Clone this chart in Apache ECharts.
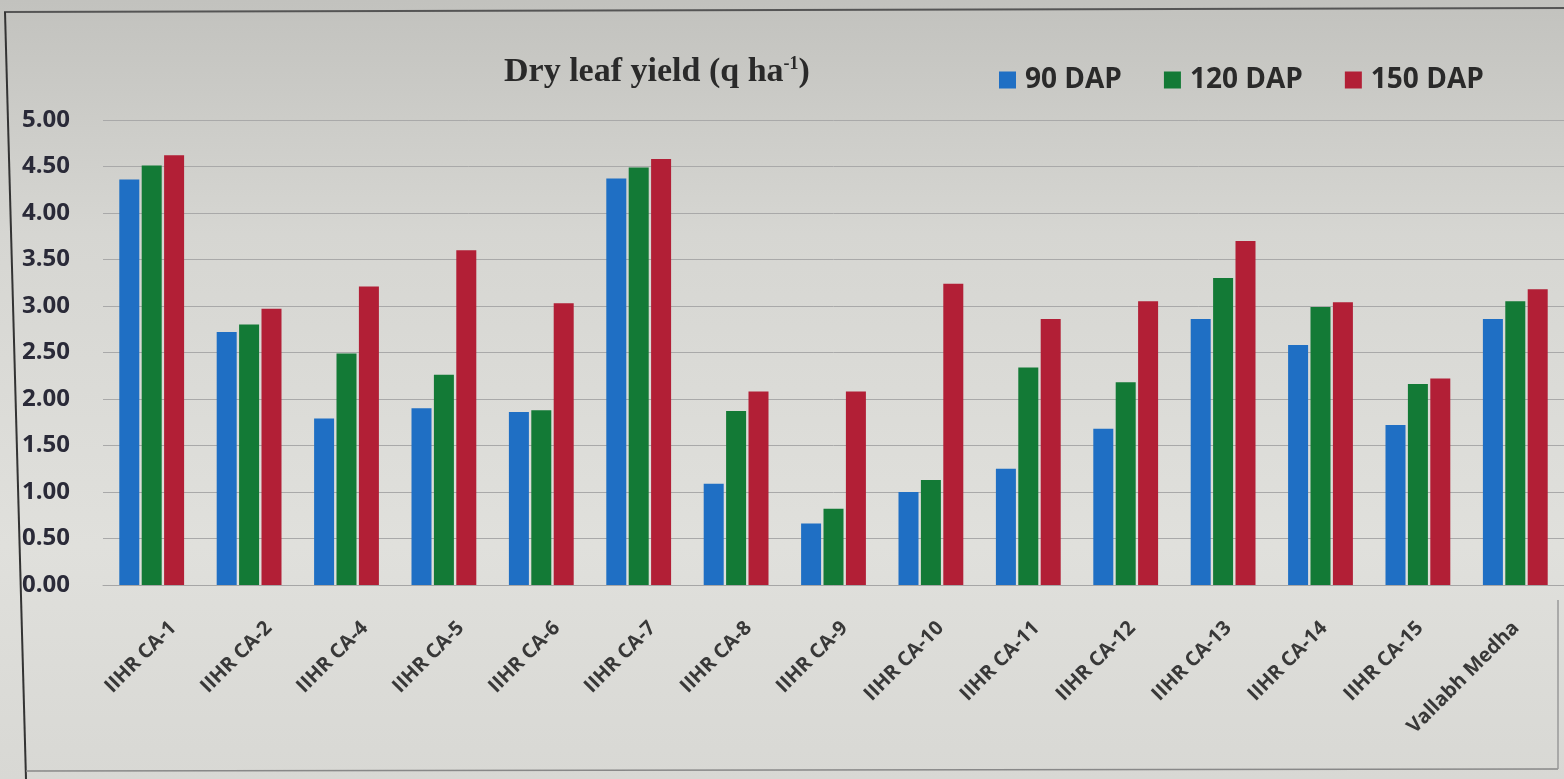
<!DOCTYPE html>
<html>
<head>
<meta charset="utf-8">
<title>Dry leaf yield</title>
<script src="https://cdn.jsdelivr.net/npm/echarts@6/dist/echarts.min.js"></script>
<style>
  html, body { margin: 0; padding: 0; background: #d4d4d0; }
  #chart { width: 1564px; height: 779px; }
</style>
</head>
<body>
<div id="chart"></div>
<script>
// Accessions on the x axis
const categories = [
  'IIHR CA-1', 'IIHR CA-2', 'IIHR CA-4', 'IIHR CA-5', 'IIHR CA-6',
  'IIHR CA-7', 'IIHR CA-8', 'IIHR CA-9', 'IIHR CA-10', 'IIHR CA-11',
  'IIHR CA-12', 'IIHR CA-13', 'IIHR CA-14', 'IIHR CA-15', 'Vallabh Medha'
];

// Dry leaf yield (q/ha) at each harvest stage
const dap90  = [4.36, 2.72, 1.79, 1.90, 1.86, 4.37, 1.09, 0.66, 1.00, 1.25, 1.68, 2.86, 2.58, 1.72, 2.86];
const dap120 = [4.51, 2.80, 2.49, 2.26, 1.88, 4.49, 1.87, 0.82, 1.13, 2.34, 2.18, 3.30, 2.99, 2.16, 3.05];
const dap150 = [4.62, 2.97, 3.21, 3.60, 3.03, 4.58, 2.08, 2.08, 3.24, 2.86, 3.05, 3.70, 3.04, 2.22, 3.18];

const seriesNames = ['90 DAP', '120 DAP', '150 DAP'];
const yTicks = { min: 0, max: 5, interval: 0.5 };

const colors = ['#1f6fc4', '#137a36', '#b21f36'];

const chart = echarts.init(document.getElementById('chart'));

const makeBar = (name, data, color) => ({
  name,
  type: 'bar',
  data,
  xAxisIndex: 0,
  yAxisIndex: 0,
  barWidth: 20,
  barGap: '12%',
  itemStyle: { color }
});

// plot area, and a copy shifted right that only carries the category labels
const plot = { left: 103, right: -15, top: 120, bottom: 194 };
const labelShift = 22;

chart.setOption({
  backgroundColor: {
    type: 'linear', x: 0, y: 0, x2: 0, y2: 1,
    colorStops: [
      { offset: 0, color: '#c2c2be' },
      { offset: 0.3, color: '#d6d6d2' },
      { offset: 0.7, color: '#e0e0dc' },
      { offset: 1, color: '#d8d8d4' }
    ]
  },
  title: {
    text: '{a|Dry leaf yield (q ha}{s|-1}{a|)}',
    left: 499,
    top: 50,
    textStyle: {
      rich: {
        a: { fontFamily: 'Liberation Serif', fontWeight: 'bold', fontSize: 34, color: '#2a2a2a' },
        s: { fontFamily: 'Liberation Serif', fontWeight: 'bold', fontSize: 18, color: '#2a2a2a', padding: [0, 0, 17, 0] }
      }
    }
  },
  legend: {
    data: seriesNames,
    left: 994,
    top: 61,
    icon: 'rect',
    itemWidth: 17,
    itemHeight: 17,
    itemGap: 42,
    textStyle: {
      fontFamily: 'Open Sans', fontWeight: 'bold', fontSize: 28, color: '#2a2a2a',
      padding: [0, 0, 0, 4]
    }
  },
  grid: [
    { left: plot.left, right: plot.right, top: plot.top, bottom: plot.bottom, containLabel: false },
    { left: plot.left + labelShift, right: plot.right - labelShift, top: plot.top, bottom: plot.bottom, containLabel: false }
  ],
  xAxis: [
    {
      type: 'category',
      gridIndex: 0,
      data: categories,
      axisLine: { lineStyle: { color: '#a6a6a6', width: 1 } },
      axisTick: { show: false },
      axisLabel: { show: false }
    },
    {
      type: 'category',
      gridIndex: 1,
      data: categories,
      axisLine: { show: false },
      axisTick: { show: false },
      axisLabel: {
        rotate: 45,
        margin: 40,
        interval: 0,
        fontFamily: 'Open Sans',
        fontWeight: 'bold',
        fontSize: 20,
        color: '#383838'
      }
    }
  ],
  yAxis: [
    {
      type: 'value',
      gridIndex: 0,
      min: yTicks.min,
      max: yTicks.max,
      interval: yTicks.interval,
      axisLine: { show: false },
      axisTick: { show: false },
      splitLine: { lineStyle: { color: '#a9a9a9', width: 1 } },
      axisLabel: {
        margin: 33,
        fontFamily: 'Open Sans',
        fontWeight: 'bold',
        fontSize: 24,
        color: '#2a2a38',
        formatter: v => v.toFixed(2)
      }
    },
    {
      type: 'value',
      gridIndex: 1,
      min: yTicks.min,
      max: yTicks.max,
      show: false
    }
  ],
  series: [
    makeBar(seriesNames[0], dap90, colors[0]),
    makeBar(seriesNames[1], dap120, colors[1]),
    makeBar(seriesNames[2], dap150, colors[2])
  ],
  graphic: [
    {
      // frame of the slide
      type: 'line',
      silent: true,
      shape: { x1: 4, y1: 12, x2: 1564, y2: 8 },
      style: { stroke: '#555', lineWidth: 2 }
    },
    {
      type: 'line',
      silent: true,
      shape: { x1: 5, y1: 12, x2: 26, y2: 779 },
      style: { stroke: '#333', lineWidth: 2 }
    },
    {
      type: 'line',
      silent: true,
      shape: { x1: 26, y1: 771, x2: 1558, y2: 769 },
      style: { stroke: '#888', lineWidth: 1.5 }
    },
    {
      type: 'line',
      silent: true,
      shape: { x1: 1558, y1: 769, x2: 1558, y2: 600 },
      style: { stroke: '#999', lineWidth: 1.5 }
    }
  ]
});
</script>
</body>
</html>
